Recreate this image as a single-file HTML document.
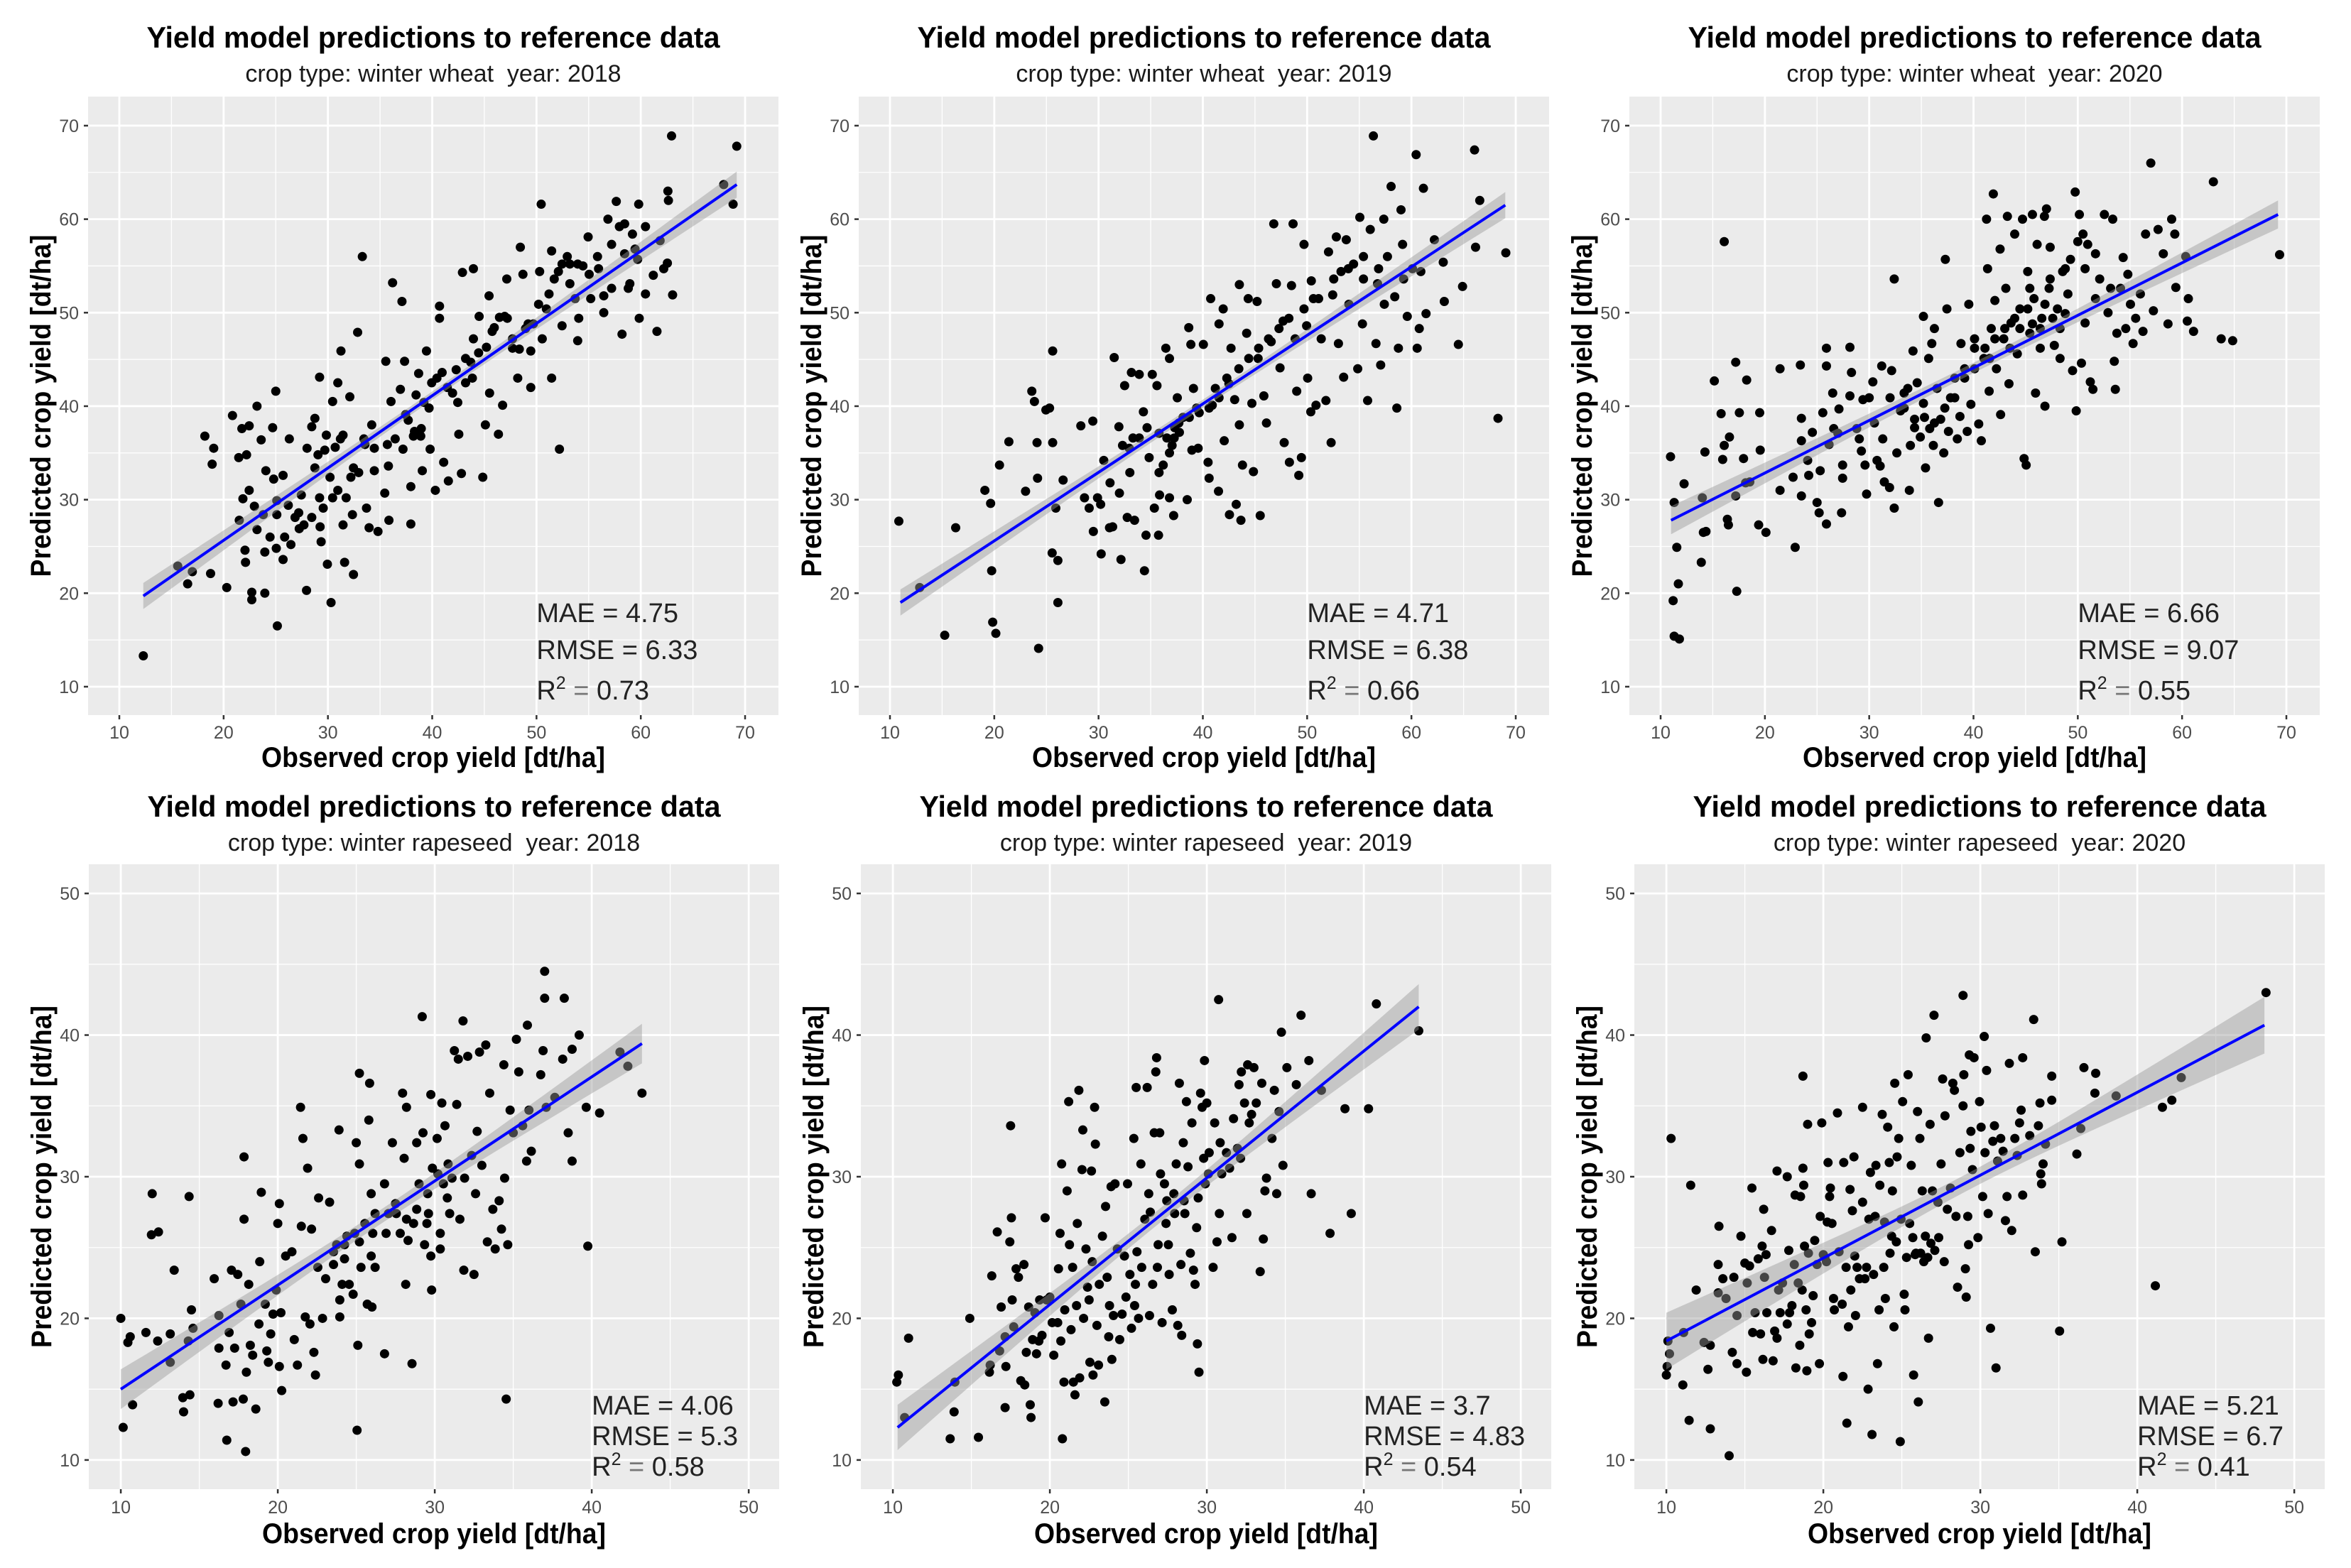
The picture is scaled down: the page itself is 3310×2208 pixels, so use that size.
<!DOCTYPE html>
<html><head><meta charset="utf-8"><style>
html,body{margin:0;padding:0;background:#fff;}
svg{display:block;font-family:"Liberation Sans",Arial,sans-serif;}
.pre{white-space:pre;}
</style></head><body>
<svg id="fig" width="3310" height="2208" viewBox="0 0 3310 2208" xmlns="http://www.w3.org/2000/svg"></svg>
<script>
// ---------- data ----------
const ww2018Obs=[12.3,15.6,16.55,17.0,18.75,20.3,18.2,19.05,18.9,20.85,21.45,22.2,21.75,22.45,23.2,21.85,21.5,22.45,22.95,22.05,22.1,22.7,22.7,23.95,23.95,23.6,24.7,24.05,24.8,25.1,25.1,25.0,26.3,25.7,25.05,25.7,25.15,26.85,27.25,27.45,27.95,27.7,28.0,28.75,28.75,29.25,29.35,29.2,29.55,29.95,30.3,29.85,30.2,30.45,30.95,31.2,31.6,31.45,31.75,31.25,32.1,32.45,32.35,32.45,32.85,33.3,33.55,33.7,33.95,34.2,34.45,34.8,35.45,35.55,35.8,35.85,36.05,36.2,36.45,37.1,36.95,37.35,37.7,37.95,37.95,38.3,38.7,38.9,39.05,39.45,39.7,39.8,40.3,40.45,40.7,40.7,41.1,41.55,41.95,42.3,42.55,42.9,42.8,43.2,43.85,43.95,43.95,44.5,44.85,45.1,45.45,45.5,45.75,46.35,46.75,46.95,47.15,47.7,48.2,48.45,48.7,49.2,49.45,49.45,50.45,50.3,50.55,50.95,51.45,51.45,52.2,52.1,52.45,52.95,53.2,53.7,53.95,54.05,53.95,54.95,55.05,55.85,56.45,56.45,56.85,57.2,57.65,57.95,58.2,58.45,58.8,59.2,59.8,59.85,59.7,60.45,61.2,61.55,61.85,62.2,62.55,62.6,62.65,62.95,63.05,67.95,68.85,69.2,
28.45,29.05,29.7,30.7,31.45,32.2,32.95,30.95,30.45,29.2,28.45,27.2,26.2,25.85,26.45,24.45,23.8,23.2,33.45,34.45,35.7,37.45,38.2,38.95,37.2,38.45,39.2,39.95,40.95,41.45,42.45,43.2,43.7,44.45,45.2,45.95,46.45,47.2,47.7,48.35,48.95,49.7,50.2,51.2,51.7,52.45,53.2,54.45,55.2,55.95,57.2,58.45,58.95,60.45,59.45];
const ww2018Pred=[13.3,22.9,21.0,22.3,22.1,20.6,36.8,35.5,33.8,39.0,34.5,34.8,37.6,37.9,40.0,30.1,27.8,31.0,29.3,24.6,23.3,20.1,19.3,20.0,24.4,36.4,37.7,33.1,32.2,28.4,29.9,41.6,36.5,32.6,24.8,23.6,16.5,28.1,26.9,30.5,20.3,27.3,35.5,38.7,33.4,27.1,25.5,43.1,29.1,23.1,19.0,36.9,32.4,40.5,42.5,36.5,23.3,27.3,30.2,45.9,41.0,33.4,28.4,22.0,47.9,56.0,35.9,29.1,27.0,38.0,33.1,26.6,30.7,44.8,33.6,27.8,40.5,53.2,36.5,51.2,41.8,44.8,38.5,27.4,31.4,37.3,43.5,36.8,33.1,45.9,39.8,35.4,31.0,43.0,50.7,49.4,34.0,32.0,41.4,43.9,37.0,54.3,32.8,45.1,43.0,47.2,54.7,49.6,32.4,38.0,51.8,41.4,48.0,37.0,40.1,49.6,53.6,46.2,43.0,57.0,54.1,48.8,42.0,45.9,61.6,54.4,47.2,50.4,43.0,56.6,35.4,54.4,48.6,56.0,53.1,51.5,55.2,49.4,47.0,58.1,54.1,56.0,50.0,51.8,60.0,52.6,61.9,59.2,47.7,56.3,52.6,58.4,61.6,49.4,55.7,59.2,54.0,48.0,57.7,54.7,55.3,63.0,62.0,68.9,51.9,63.7,61.6,67.8,
37.8,34.8,35.3,35.6,36.9,32.4,32.9,31.0,30.2,30.2,28.1,28.6,29.4,26.0,25.2,26.0,28.4,26.8,36.5,35.5,35.9,39.1,36.8,37.6,35.4,41.2,40.4,42.5,43.6,42.0,40.4,42.5,44.7,45.7,46.3,48.4,49.5,49.4,47.2,46.1,48.3,48.8,50.9,52.0,53.6,55.2,55.2,55.0,51.5,54.7,57.3,59.5,53.1,52.0,56.8];
const ww2019Obs=[10.85,12.85,15.25,16.3,19.1,19.65,19.75,19.85,20.15,20.5,21.4,23.0,23.6,23.85,24.1,24.15,24.25,24.95,25.3,25.6,25.6,25.55,25.9,26.1,26.1,26.6,28.3,28.65,29.1,29.45,29.5,29.9,30.2,30.25,30.5,31.1,31.35,31.5,31.95,32.15,32.3,32.5,32.75,33.0,33.15,33.3,33.45,33.9,34.3,34.4,34.55,34.65,35.15,35.35,35.6,35.75,35.85,36.2,36.45,36.55,36.8,36.8,37.05,37.2,37.3,37.55,37.75,38.1,38.5,38.65,38.85,38.95,39.1,39.4,39.55,40.05,40.5,40.6,40.75,40.9,41.2,41.5,41.55,41.95,42.05,42.3,42.55,42.7,43.05,43.2,43.5,43.5,43.65,43.8,44.2,44.35,44.7,44.85,45.2,45.3,45.5,45.85,46.1,46.55,46.8,47.05,47.4,47.7,47.8,48.3,48.5,48.65,48.85,49.0,49.2,49.45,49.7,49.95,50.35,50.05,50.4,50.6,50.85,51.35,51.8,52.05,52.3,52.45,52.8,53.0,53.25,53.5,53.75,54.0,54.45,54.85,55.05,55.3,55.4,55.8,56.05,56.35,56.6,56.75,57.05,57.35,57.4,57.7,58.05,58.4,58.6,58.75,59.0,59.15,59.25,59.6,60.1,60.45,60.55,60.75,60.9,61.15,61.4,62.2,63.05,63.15,64.5,64.9,66.05,66.15,66.55,68.3,69.05,
35.8,37.25,37.7,38.7,39.65,40.6,41.55,42.5,43.45,44.4,45.35,46.3,47.3,48.25,49.7,51.1,52.55,53.95,55.4,56.85,32.95,33.9,34.85,36.8,35.8,32.0,31.05];
const ww2019Pred=[27.7,20.6,15.5,27.0,31.0,29.6,22.4,16.9,15.7,33.7,36.2,30.9,41.6,40.5,36.1,32.3,14.1,39.6,39.8,45.9,36.1,24.3,29.1,23.5,19.0,32.1,37.9,30.2,29.1,38.4,26.6,30.2,29.5,24.2,34.2,31.8,27.1,45.2,37.8,23.6,35.8,42.2,28.1,32.9,43.6,36.6,27.8,43.4,39.4,22.4,26.2,37.7,43.4,29.1,42.2,26.2,30.5,33.7,46.2,36.6,45.1,30.2,35.8,28.3,37.7,40.9,37.2,38.8,30.0,48.4,46.6,35.3,41.9,39.8,35.5,46.6,34.0,32.3,51.5,40.1,41.9,30.9,48.8,50.4,36.3,43.0,28.4,46.2,40.7,29.5,53.0,38.0,27.8,33.7,47.8,51.5,40.3,33.0,51.2,45.1,28.3,41.1,38.2,46.9,59.5,53.1,44.1,49.1,36.1,34.0,52.9,59.5,47.2,41.6,32.6,34.5,57.3,48.6,39.4,43.0,53.4,51.5,40.1,47.2,40.6,56.5,36.1,51.9,58.1,46.7,54.4,43.1,57.8,50.9,55.2,44.0,60.2,48.8,56.0,40.6,58.9,68.9,46.7,53.1,44.4,60.0,50.9,56.0,63.5,51.7,39.8,46.2,61.0,57.3,53.6,49.6,54.7,66.9,46.2,48.3,54.4,63.3,49.9,57.8,55.4,51.2,46.6,52.8,67.4,57.0,62.0,38.7,56.4,
37.1,36.6,38.2,38.8,39.3,39.8,40.9,42.4,44.0,45.1,46.2,47.2,48.3,49.4,50.4,51.5,53.6,54.7,53.6,54.7,35.5,36.6,34.5,35.0,32.9,30.7,27.0];
const ww2020Obs=[10.95,11.3,11.55,11.7,11.2,11.3,11.8,12.25,14.0,13.9,14.25,14.35,14.1,15.15,15.8,15.95,16.1,16.1,16.4,16.5,16.6,17.2,17.2,17.3,17.55,17.95,18.15,18.25,18.55,19.5,19.55,19.4,20.1,21.45,21.45,22.7,22.9,23.4,23.5,23.5,23.5,24.1,24.2,24.55,25.0,25.2,25.3,25.55,25.9,25.9,25.9,26.15,26.5,26.6,27.0,27.1,27.35,27.45,27.45,28.15,28.15,28.3,28.8,29.05,29.25,29.4,29.6,29.75,30.0,30.35,30.5,30.75,31.05,31.2,31.3,31.45,31.95,32.0,32.15,32.4,32.4,32.65,33.0,33.35,33.7,33.85,33.95,34.2,34.35,34.6,34.9,35.2,35.2,35.4,35.7,35.8,36.0,36.15,36.25,36.5,36.65,36.85,37.15,37.3,37.45,37.6,37.8,38.2,38.45,38.7,38.8,39.15,39.4,39.55,39.75,40.1,40.5,40.75,41.0,41.25,41.35,41.5,41.7,41.9,42.05,42.2,42.55,42.6,42.9,43.1,43.25,43.4,43.6,43.95,44.2,44.45,44.7,44.85,45.05,45.2,45.4,45.65,45.8,45.95,46.1,46.4,46.55,46.8,46.85,47.0,47.25,47.35,47.75,48.05,48.3,48.55,49.05,49.3,49.5,49.75,49.85,50.0,50.15,50.35,50.5,50.7,50.95,51.2,51.45,51.7,52.1,52.55,52.9,53.15,53.35,53.5,53.6,53.75,54.1,54.35,54.6,54.8,55.05,55.3,55.55,56.0,56.25,56.5,57.0,57.25,57.7,58.2,58.65,59.0,59.3,59.4,60.35,60.6,60.5,61.1,63.0,63.75,64.85,69.35,
42.05,43.0,43.95,44.45,45.2,45.65,46.4,46.85,47.6,48.3,48.8,41.1,40.1,39.15,38.2,37.25,36.25,35.3,34.35,33.35,40.1,41.55,43.5,45.4,47.35,48.8,50.7,51.7];
const ww2020Pred=[34.6,29.7,24.9,21.0,19.2,15.4,15.1,31.7,30.2,23.3,35.1,26.6,26.5,42.7,39.2,34.3,57.6,35.8,27.9,27.3,36.7,44.7,30.4,20.2,39.3,34.4,31.8,42.8,31.9,39.3,35.3,27.3,26.5,44.0,31.0,32.4,24.9,44.4,38.7,36.3,30.4,34.2,32.6,37.2,29.7,28.6,33.1,39.3,46.2,44.3,27.4,35.9,41.4,37.6,37.1,39.7,28.6,33.7,32.3,46.3,41.1,43.6,37.6,36.5,35.2,40.7,33.7,30.6,40.9,42.6,38.2,34.2,33.6,44.3,36.5,31.9,31.3,40.9,43.8,53.6,29.1,35.0,39.5,41.4,41.9,31.0,35.8,45.9,38.6,42.5,36.7,49.6,40.3,33.4,45.1,37.6,46.7,35.8,48.3,41.9,29.7,38.6,35.0,55.7,50.4,37.3,40.9,43.0,36.5,38.9,46.7,44.0,37.3,50.9,40.2,46.2,38.1,36.3,45.1,60.0,54.7,41.6,48.3,62.7,51.3,44.0,56.8,39.1,47.2,52.6,60.3,42.4,48.9,58.4,45.6,50.4,60.0,34.4,33.7,54.4,47.8,60.5,51.5,41.4,57.3,46.2,49.4,60.3,40.0,61.1,52.6,57.0,46.5,50.4,45.1,54.4,52.0,55.7,43.8,62.9,39.5,57.6,60.5,44.6,58.4,48.9,57.3,42.6,41.8,51.5,53.6,60.5,50.0,52.6,60.0,44.8,41.8,47.8,52.6,55.9,48.3,54.1,50.9,46.7,49.4,52.0,48.0,58.4,66.0,50.2,58.9,56.3,48.8,60.0,58.4,52.7,56.0,51.5,49.1,48.0,64.0,47.2,47.0,56.2,
47.2,48.3,49.4,48.3,50.4,48.8,48.3,50.9,49.4,48.3,49.9,46.2,44.0,43.0,40.9,39.8,38.2,38.8,37.7,39.8,47.2,45.1,46.2,52.6,53.6,54.7,54.7,56.3];
const wr2018Obs=[10.0,10.15,10.45,10.6,10.75,11.6,12.0,11.95,12.4,12.35,13.15,13.15,13.4,13.95,14.0,14.35,14.4,14.5,14.6,14.3,15.95,16.2,16.25,16.25,16.7,16.75,16.9,17.05,17.15,17.25,17.45,17.65,17.8,17.85,17.85,17.95,18.0,18.15,18.25,18.4,18.6,18.8,18.85,18.95,19.2,19.3,19.4,19.55,19.7,19.9,20.1,20.0,20.1,20.25,20.2,20.5,20.9,21.05,21.25,21.45,21.5,21.6,21.75,21.9,22.05,22.15,22.3,22.4,22.55,22.6,22.85,23.05,23.3,23.55,23.75,23.9,23.95,23.95,24.1,24.25,24.4,24.55,24.8,25.0,25.05,25.1,25.2,25.2,25.2,25.3,25.7,25.8,25.85,25.95,26.0,25.95,26.05,26.2,26.8,26.8,27.05,27.3,27.5,27.8,27.95,28.05,28.15,28.2,28.3,28.55,28.65,28.85,29.0,29.2,29.25,29.35,29.5,29.6,29.75,29.75,29.8,29.85,30.15,30.35,30.35,30.45,30.55,30.65,30.8,30.95,31.1,31.25,31.4,31.5,31.6,31.8,31.85,31.9,32.1,32.35,32.5,32.6,32.7,32.85,33.0,33.25,33.35,33.5,33.7,33.85,34.1,34.25,34.4,34.45,34.55,34.65,34.8,35.0,35.2,35.35,35.6,35.85,35.9,36.0,36.15,36.75,36.9,37.0,37.0,37.1,37.65,38.15,38.25,38.5,38.75,38.75,39.2,39.65,39.75,40.5,42.3,41.8,43.2,
27.55,28.2,28.85,29.55,30.2,30.85,25.55,24.9,24.25,23.55,26.2,26.9];
const wr2018Pred=[20.0,12.3,18.3,18.7,13.9,19.0,28.8,25.9,26.1,18.4,18.9,16.9,23.4,14.4,13.4,28.6,14.6,20.6,19.3,18.4,22.8,14.0,17.9,20.2,16.7,11.4,19.0,23.4,14.1,17.9,23.1,21.0,14.3,27.0,31.4,10.6,16.2,22.4,18.1,17.4,13.6,19.6,24.0,28.9,21.0,17.7,16.9,18.9,20.3,22.0,28.1,26.7,16.6,14.9,20.4,24.4,24.7,18.5,16.7,34.9,26.5,32.7,20.1,30.6,19.6,26.3,17.6,16.0,23.6,28.5,20.0,22.8,28.2,24.7,25.2,33.3,21.3,20.1,22.4,24.2,25.8,22.4,21.7,32.4,12.1,18.1,30.9,37.3,25.4,23.6,21.0,34.0,36.6,24.4,20.8,28.8,26.0,23.6,17.5,29.5,27.4,32.4,28.1,26.0,35.9,31.3,22.4,34.9,25.5,16.8,26.7,32.4,29.5,41.3,33.1,25.2,26.7,27.4,35.8,24.4,22.0,30.6,32.7,26.0,24.9,35.2,29.5,33.6,28.5,27.4,29.9,38.9,35.1,38.3,27.0,41.0,23.4,29.9,38.5,31.5,23.1,28.8,33.2,38.8,30.8,39.3,25.4,35.9,27.7,24.9,28.3,26.3,37.9,29.9,14.3,25.2,34.7,33.1,39.7,37.4,33.6,31.1,40.7,34.7,31.8,37.2,38.9,44.5,42.6,34.9,35.6,38.3,42.6,33.1,39.0,31.1,40.0,34.9,25.1,34.5,37.8,38.8,35.9,
27.4,27.0,27.7,28.8,30.2,30.9,26.7,26.0,25.2,23.8,27.4,26.0];
const wr2019Obs=[10.25,10.35,10.75,11.0,13.65,13.9,13.95,14.9,15.45,16.15,16.2,16.3,16.65,16.8,16.9,17.15,17.15,17.2,17.45,17.5,17.55,17.6,17.7,17.85,18.0,18.15,18.35,18.4,18.5,18.65,18.75,18.8,18.9,19.05,19.15,19.3,19.35,19.5,19.7,19.8,20.0,20.15,20.25,20.5,20.55,20.65,20.7,20.75,20.8,20.9,20.95,21.1,21.2,21.25,21.35,21.45,21.5,21.6,21.7,21.75,21.85,21.9,22.05,22.1,22.15,22.3,22.4,22.5,22.55,22.65,22.7,22.75,22.85,22.9,23.0,23.1,23.15,23.35,23.5,23.55,23.65,23.75,23.8,23.9,23.95,24.05,24.15,24.3,24.45,24.6,24.75,24.85,24.95,25.1,25.2,25.35,25.4,25.45,25.5,25.55,25.65,25.8,25.85,26.05,26.2,26.3,26.35,26.4,26.55,26.65,26.75,26.8,26.85,26.9,27.0,27.05,27.15,27.3,27.4,27.45,27.55,27.6,27.8,27.9,27.95,28.05,28.15,28.25,28.35,28.4,28.5,28.55,28.6,28.7,28.8,28.95,29.05,29.15,29.25,29.35,29.4,29.45,29.5,29.6,29.7,29.8,29.85,29.9,30.0,30.1,30.15,30.4,30.5,30.65,30.75,30.8,30.85,30.95,31.25,31.45,31.6,31.7,31.95,32.05,32.15,32.2,32.4,32.55,32.6,32.7,32.85,33.0,33.15,33.4,33.5,33.6,33.7,33.8,34.15,34.3,34.45,34.6,34.75,34.85,35.1,35.7,36.0,36.5,36.65,37.3,37.85,38.8,39.2,40.3,40.8,43.5];
const wr2019Pred=[15.5,16.0,13.0,18.6,11.5,13.4,15.5,20.0,11.6,16.2,16.7,23.0,26.1,17.7,20.8,13.7,18.7,16.6,25.4,33.6,27.1,21.3,19.4,23.5,22.9,15.6,23.8,15.3,17.6,20.8,13.9,13.0,18.5,20.4,17.5,18.4,21.3,18.8,27.1,21.3,21.5,19.7,17.4,19.7,23.5,26.0,18.4,30.9,11.5,15.5,20.6,29.0,35.3,25.2,19.2,23.6,15.5,14.6,20.9,26.7,36.1,15.8,30.5,33.3,20.0,24.9,22.2,21.3,16.9,30.4,24.0,16.0,34.9,32.3,19.5,16.7,22.4,25.8,14.1,27.9,22.9,18.7,20.9,29.3,17.1,20.2,29.5,24.9,18.5,20.3,24.4,21.5,29.5,23.1,19.3,32.7,20.9,22.4,36.3,24.7,20.0,30.9,23.6,27.0,36.3,28.8,20.2,27.5,22.4,33.1,37.4,38.4,23.6,25.2,33.1,30.2,19.7,29.5,26.7,28.3,25.2,23.1,20.6,28.8,27.4,30.9,19.5,36.6,23.8,18.8,32.4,28.3,27.4,35.3,30.7,24.6,33.8,23.4,22.4,26.4,18.2,28.5,16.2,35.9,34.9,31.3,38.2,29.5,35.2,30.2,31.7,23.6,33.8,25.4,42.5,27.4,32.4,30.2,31.7,30.6,25.7,34.1,32.0,36.5,31.3,37.4,35.2,27.4,37.9,33.8,34.4,37.7,35.2,23.3,36.6,25.6,29.0,29.9,32.7,36.1,28.8,34.6,40.2,30.8,37.7,36.5,41.4,38.2,28.8,36.1,26.0,34.8,27.4,34.8,42.2,40.3];
const wr2020Obs=[10.0,10.05,10.1,10.2,10.3,11.05,11.1,11.45,11.55,11.9,12.4,12.65,12.8,12.8,13.3,13.35,13.3,13.6,13.8,14.0,14.2,14.3,14.5,14.5,14.75,15.0,15.1,15.15,15.3,15.45,15.5,15.65,15.85,16.0,16.1,16.15,16.2,16.25,16.35,16.4,16.7,16.8,16.9,17.05,17.05,17.15,17.25,17.4,17.7,17.7,17.8,17.85,18.0,18.15,18.2,18.25,18.4,18.5,18.55,18.65,18.7,18.7,18.75,18.8,18.9,18.95,19.0,19.05,19.1,19.25,19.35,19.45,19.6,19.75,19.8,19.9,20.0,20.1,20.2,20.25,20.3,20.4,20.45,20.55,20.65,20.7,20.9,21.0,21.2,21.25,21.3,21.45,21.5,21.6,21.7,21.75,21.85,21.95,22.0,22.05,22.15,22.3,22.5,22.5,22.65,22.75,22.85,22.9,23.0,23.1,23.2,23.3,23.35,23.45,23.55,23.6,23.75,23.85,23.9,23.95,24.1,24.2,24.25,24.35,24.4,24.5,24.55,24.65,24.7,24.8,24.9,24.95,25.05,25.15,25.2,25.3,25.4,25.5,25.6,25.7,25.75,25.85,25.9,26.0,26.05,26.15,26.2,26.3,26.4,26.5,26.55,26.65,26.7,26.8,26.85,26.95,27.05,27.1,27.3,27.35,27.5,27.6,27.7,27.75,27.9,28.1,28.25,28.35,28.45,28.55,28.7,28.9,28.9,28.95,29.05,29.1,29.2,29.25,29.3,29.35,29.4,29.5,29.6,29.85,29.95,30.05,30.15,30.25,30.3,30.4,30.5,30.65,30.8,30.9,31.0,31.1,31.3,31.45,31.6,31.7,31.85,32.0,32.2,32.35,32.5,32.6,32.7,32.7,33.15,33.4,33.5,33.7,33.8,33.85,33.9,34.0,34.15,34.55,34.55,35.05,35.2,36.15,36.4,36.6,37.35,37.3,38.65,41.15,41.6,42.2,42.8,48.2];
const wr2020Pred=[16.0,16.6,18.4,17.5,32.7,15.3,19.0,12.8,29.4,22.0,18.3,16.4,12.2,18.1,21.8,26.5,23.8,22.8,21.4,10.3,17.6,22.9,20.2,16.8,25.8,23.9,16.2,22.5,23.7,29.2,19.0,20.4,24.2,18.9,25.1,17.1,27.7,22.9,24.5,20.4,26.2,17.0,19.1,18.6,30.4,22.0,20.4,22.5,30.0,19.6,24.8,20.4,20.9,23.8,28.7,16.5,22.5,18.1,28.6,22.0,30.6,37.1,29.4,25.1,20.6,16.3,33.7,24.6,18.9,19.7,21.6,25.5,23.8,16.8,27.2,33.8,24.5,24.3,24.0,26.8,31.0,28.6,29.2,26.7,21.4,20.6,34.5,24.7,21.0,15.9,31.0,23.6,12.6,19.4,29.1,22.0,27.6,31.4,24.4,20.2,23.6,22.8,34.9,28.2,22.8,23.6,15.0,27.0,30.3,11.8,23.1,27.2,30.8,16.8,20.6,29.4,34.4,23.6,26.8,21.4,33.5,31.0,24.6,25.8,29.0,19.4,36.6,25.4,31.4,32.7,11.3,27.0,35.3,21.7,20.6,24.3,37.2,26.7,30.8,25.7,16.0,24.5,24.6,34.6,14.1,32.7,24.6,29.0,24.0,25.8,39.8,24.3,18.6,33.7,25.3,29.0,41.4,24.8,28.2,25.7,30.9,36.9,24.0,34.3,27.7,29.2,36.6,36.1,27.2,22.2,31.7,42.8,35.0,37.2,23.5,21.5,27.2,25.2,38.6,32.0,33.2,30.5,38.4,25.7,35.3,33.5,28.6,39.9,31.7,37.5,27.4,19.3,32.5,33.6,16.5,31.1,32.7,31.8,26.9,28.6,38.0,26.2,32.7,31.5,33.8,34.7,28.7,38.4,32.9,41.1,24.7,33.6,35.2,30.2,29.5,30.9,32.3,37.1,35.4,19.1,25.4,31.6,33.4,37.7,37.3,35.9,35.7,22.3,34.9,35.4,37.0,43.0];
// regression fit endpoints [x0,y0,x1,y1] and confidence half-widths [end, middle]
const fitLines=[[12.3,19.7,69.2,63.7],[11,19,69,61.5],[11,27.8,69.2,60.5],[10,15,43.2,39.4],[10.3,12.3,43.5,42],[10,18.4,48.1,40.7]];
const bandHalf=[[1.4,0.45],[1.4,0.45],[1.5,0.55],[1.4,0.5],[1.6,0.5],[2.0,0.6]];
const maeVals=["4.75","4.71","6.66","4.06","3.7","5.21"];
const rmseVals=["6.33","6.38","9.07","5.3","4.83","6.7"];
const r2Vals=["0.73","0.66","0.55","0.58","0.54","0.41"];
const cropTypes=["winter wheat","winter wheat","winter wheat","winter rapeseed","winter rapeseed","winter rapeseed"];
const years=["2018","2019","2020","2018","2019","2020"];
const topTicks=[10,20,30,40,50,60,70];
const bottomTicks=[10,20,30,40,50];

// ---------- layout ----------
const NS="http://www.w3.org/2000/svg";
const svg=document.getElementById('fig');
function mk(tag,attrs,parent){const e=document.createElementNS(NS,tag);for(const k in attrs)e.setAttribute(k,attrs[k]);(parent||svg).appendChild(e);return e;}
const panels=[
 {obs:ww2018Obs,pred:ww2018Pred,left:124,top:136,w:972,h:871,xd:[7.003,73.2],yd:[6.96,73.11],ticks:topTicks,row:0},
 {obs:ww2019Obs,pred:ww2019Pred,left:1209,top:136,w:972,h:871,xd:[7.003,73.2],yd:[6.96,73.11],ticks:topTicks,row:0},
 {obs:ww2020Obs,pred:ww2020Pred,left:2294,top:136,w:972,h:871,xd:[7.003,73.2],yd:[6.96,73.11],ticks:topTicks,row:0},
 {obs:wr2018Obs,pred:wr2018Pred,left:125,top:1217,w:972,h:880,xd:[7.96,51.94],yd:[7.94,52.06],ticks:bottomTicks,row:1},
 {obs:wr2019Obs,pred:wr2019Pred,left:1212,top:1217,w:972,h:880,xd:[7.96,51.94],yd:[7.94,52.06],ticks:bottomTicks,row:1},
 {obs:wr2020Obs,pred:wr2020Pred,left:2301,top:1217,w:972,h:880,xd:[7.96,51.94],yd:[7.94,52.06],ticks:bottomTicks,row:1}
];
const rowText=[
 {title:67,sub:115,tick:1040,xt:1080,st:[876,928,985],statX:50},
 {title:1150,sub:1198,tick:2131,xt:2173,st:[1992,2035,2078],statX:40}
];

panels.forEach((p,i)=>{
  const sx=v=>p.left+(v-p.xd[0])/(p.xd[1]-p.xd[0])*p.w;
  const sy=v=>p.top+p.h-(v-p.yd[0])/(p.yd[1]-p.yd[0])*p.h;
  const rt=rowText[p.row];
  const g=mk('g',{});
  
  
  const bg=mk('rect',{x:p.left,y:p.top,width:p.w,height:p.h,fill:'#EBEBEB'},g);
  
  
  const t=p.ticks;
  for(let k=0;k<t.length-1;k++){
    const m=(t[k]+t[k+1])/2;
    const lx=mk('line',{x1:sx(m),x2:sx(m),y1:p.top,y2:p.top+p.h,stroke:'#fff','stroke-width':1.3},g);
    
    
    const ly=mk('line',{x1:p.left,x2:p.left+p.w,y1:sy(m),y2:sy(m),stroke:'#fff','stroke-width':1.3},g);
    
    
  }
  t.forEach(v=>{
    const gx=mk('line',{x1:sx(v),x2:sx(v),y1:p.top,y2:p.top+p.h,stroke:'#fff','stroke-width':2.8},g);
    
    
    const gy=mk('line',{x1:p.left,x2:p.left+p.w,y1:sy(v),y2:sy(v),stroke:'#fff','stroke-width':2.8},g);
    
    
    const tx=mk('line',{x1:sx(v),x2:sx(v),y1:p.top+p.h,y2:p.top+p.h+6,stroke:'#333','stroke-width':2.5},g);
    
    
    const ty=mk('line',{x1:p.left-6,x2:p.left,y1:sy(v),y2:sy(v),stroke:'#333','stroke-width':2.5},g);
    
    
    const lx=mk('text',{x:sx(v),y:rt.tick,'text-anchor':'middle','font-size':25,fill:'#4D4D4D'},g);
    lx.textContent=v;
    
    
    const ly=mk('text',{x:p.left-13,y:sy(v)+9,'text-anchor':'end','font-size':25,fill:'#4D4D4D'},g);
    ly.textContent=v;
    
    
  });
  p.obs.forEach((o,j)=>{
    const c=mk('circle',{cx:sx(o),cy:sy(p.pred[j]),r:6.5,fill:'#000'},g);
    
    
  });
  const f=fitLines[i],bh=bandHalf[i];
  const slope=(f[3]-f[1])/(f[2]-f[0]);
  const xm=(f[0]+f[2])/2,half=(f[2]-f[0])/2;
  const up=[],dn=[];
  for(let s=0;s<=40;s++){
    const x=f[0]+(f[2]-f[0])*s/40;
    const y=f[1]+slope*(x-f[0]);
    const u=(x-xm)/half;
    const hw=Math.sqrt(bh[1]*bh[1]+(bh[0]*bh[0]-bh[1]*bh[1])*u*u);
    up.push(sx(x)+','+sy(y+hw));dn.unshift(sx(x)+','+sy(y-hw));
  }
  const band=mk('polygon',{points:up.concat(dn).join(' '),fill:'#999999','fill-opacity':0.45},g);
  
  
  const fl=mk('line',{x1:sx(f[0]),y1:sy(f[1]),x2:sx(f[2]),y2:sy(f[3]),stroke:'#0000FF','stroke-width':4},g);
  
  
  const cx=p.left+p.w/2;
  const ti=mk('text',{x:cx,y:rt.title,'text-anchor':'middle','font-size':42,'font-weight':'bold',fill:'#000',textLength:807,lengthAdjust:'spacingAndGlyphs'},g);
  ti.textContent='Yield model predictions to reference data';
  
  
  const su=mk('text',{x:cx,y:rt.sub,'text-anchor':'middle','font-size':34,fill:'#1a1a1a','class':'pre'},g);
  su.textContent='crop type: '+cropTypes[i]+'  year: '+years[i];
  
  
  const xt=mk('text',{x:cx,y:rt.xt,'text-anchor':'middle','font-size':40,'font-weight':'bold',fill:'#000',textLength:484,lengthAdjust:'spacingAndGlyphs'},g);
  xt.textContent='Observed crop yield [dt/ha]';
  
  
  const cy=p.top+p.h/2;
  const yt=mk('text',{x:p.left-53,y:cy,'text-anchor':'middle','font-size':40,'font-weight':'bold',fill:'#000',transform:'rotate(-90 '+(p.left-53)+' '+cy+')',textLength:482,lengthAdjust:'spacingAndGlyphs'},g);
  yt.textContent='Predicted crop yield [dt/ha]';
  
  
  const stx=sx(rt.statX);
  const s1=mk('text',{x:stx,y:rt.st[0],'font-size':38,fill:'#222'},g);
  s1.textContent='MAE = '+maeVals[i];
  
  
  const s2=mk('text',{x:stx,y:rt.st[1],'font-size':38,fill:'#222'},g);
  s2.textContent='RMSE = '+rmseVals[i];
  
  
  const s3=mk('text',{x:stx,y:rt.st[2],'font-size':38,fill:'#222'},g);
  
  
  const a=mk('tspan',{},s3);a.textContent='R';
  const b=mk('tspan',{dy:-15,'font-size':25},s3);b.textContent='2';
  const c=mk('tspan',{dy:15,fill:'#777'},s3);c.textContent=' = ';
  const d=mk('tspan',{},s3);d.textContent=r2Vals[i];
});
</script>
</body></html>
